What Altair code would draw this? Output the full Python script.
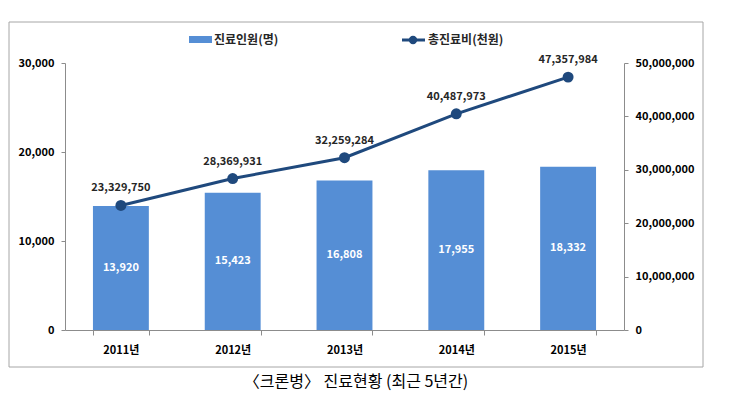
import altair as alt
import pandas as pd

years = ["2011년", "2012년", "2013년", "2014년", "2015년"]
patients = [13920, 15423, 16808, 17955, 18332]
costs = [23329750, 28369931, 32259284, 40487973, 47357984]

left_ticks = [0, 10000, 20000, 30000]
right_ticks = [0, 10000000, 20000000, 30000000, 40000000, 50000000]

BAR = "#558ED5"
LINE = "#1F497D"
GRAY = "#8C8C8C"
FONT = "Noto Sans CJK KR"

df = pd.DataFrame({"year": years, "patients": patients, "costs": costs})
df["half"] = df["patients"] / 2

x = alt.X("year:N", sort=years, title=None,
          scale=alt.Scale(paddingInner=0.5, paddingOuter=0.25),
          axis=alt.Axis(labelAngle=0, tickBand="extent", tickSize=5,
                        labelPadding=9, domainColor=GRAY, tickColor=GRAY,
                        labelFontSize=11))

left_axis = alt.Axis(values=left_ticks, labelExpr="format(datum.value, ',')",
                     grid=False, tickSize=4, title=None,
                     labelPadding=7, domainColor=GRAY, tickColor=GRAY)
right_axis = alt.Axis(orient="right", values=right_ticks,
                      labelExpr="format(datum.value, ',')", title=None,
                      grid=False, tickSize=4, labelPadding=7,
                      domainColor=GRAY, tickColor=GRAY)

base = alt.Chart(df)

bars = base.mark_bar(color=BAR).encode(
    x=x,
    y=alt.Y("patients:Q", title=None,
            scale=alt.Scale(domain=[0, 30000]), axis=left_axis),
)
bar_text = base.mark_text(color="white", fontWeight="bold", fontSize=11,
                          font=FONT, baseline="middle").encode(
    x=alt.X("year:N", sort=years),
    y=alt.Y("half:Q", title=None, axis=left_axis),
    text=alt.Text("patients:Q", format=","),
)
bar_layer = alt.layer(bars, bar_text)

line = base.mark_line(color=LINE, strokeWidth=3).encode(
    x=alt.X("year:N", sort=years),
    y=alt.Y("costs:Q", title=None,
            scale=alt.Scale(domain=[0, 50000000]), axis=right_axis),
)
points = base.mark_point(filled=True, color=LINE, size=120, opacity=1).encode(
    x=alt.X("year:N", sort=years),
    y=alt.Y("costs:Q", title=None, axis=right_axis),
)
line_text = base.mark_text(color="#262626", fontWeight="bold", fontSize=11,
                           font=FONT, baseline="middle", dy=-17).encode(
    x=alt.X("year:N", sort=years),
    y=alt.Y("costs:Q", title=None, axis=right_axis),
    text=alt.Text("costs:Q", format=","),
)
line_layer = alt.layer(line, points, line_text)

one = pd.DataFrame({"k": [0]})
deco = alt.Chart(one)

border = deco.mark_rect(fill=None, stroke="#A6A6A6", strokeWidth=1).encode(
    x=alt.value(-56), x2=alt.value(638), y=alt.value(-41), y2=alt.value(304))

leg_bar = deco.mark_rect(color=BAR).encode(
    x=alt.value(124), x2=alt.value(147), y=alt.value(-27), y2=alt.value(-20))
leg_bar_text = deco.mark_text(text="진료인원(명)", align="left", baseline="middle",
                              fontWeight="bold", fontSize=12, font=FONT,
                              color="#262626").encode(
    x=alt.value(149), y=alt.value(-23))
leg_line = deco.mark_rule(color=LINE, strokeWidth=3).encode(
    x=alt.value(337), x2=alt.value(360), y=alt.value(-23))
leg_pt = deco.mark_point(filled=True, color=LINE, size=70, opacity=1).encode(
    x=alt.value(348), y=alt.value(-23))
leg_line_text = deco.mark_text(text="총진료비(천원)", align="left", baseline="middle",
                               fontWeight="bold", fontSize=12, font=FONT,
                               color="#262626").encode(
    x=alt.value(363), y=alt.value(-23))

caption = deco.mark_text(text="〈크론병〉 진료현황 (최근 5년간)", align="center",
                         baseline="middle", fontSize=16, font=FONT,
                         color="#000000").encode(
    x=alt.value(291), y=alt.value(319))

chart = alt.layer(
    border, bar_layer, line_layer, leg_bar, leg_bar_text, leg_line, leg_pt,
    leg_line_text, caption
).resolve_scale(y="independent").properties(
    width=559, height=267,
    autosize=alt.AutoSizeParams(type="none"),
    padding={"left": 57, "top": 55, "right": 95, "bottom": 66},
).configure_view(stroke=None).configure_axis(
    labelFont=FONT, labelFontWeight="bold", labelFontSize=11, labelColor="#000000"
)

chart.save("out.html", embed_options={"renderer": "svg", "actions": False})
